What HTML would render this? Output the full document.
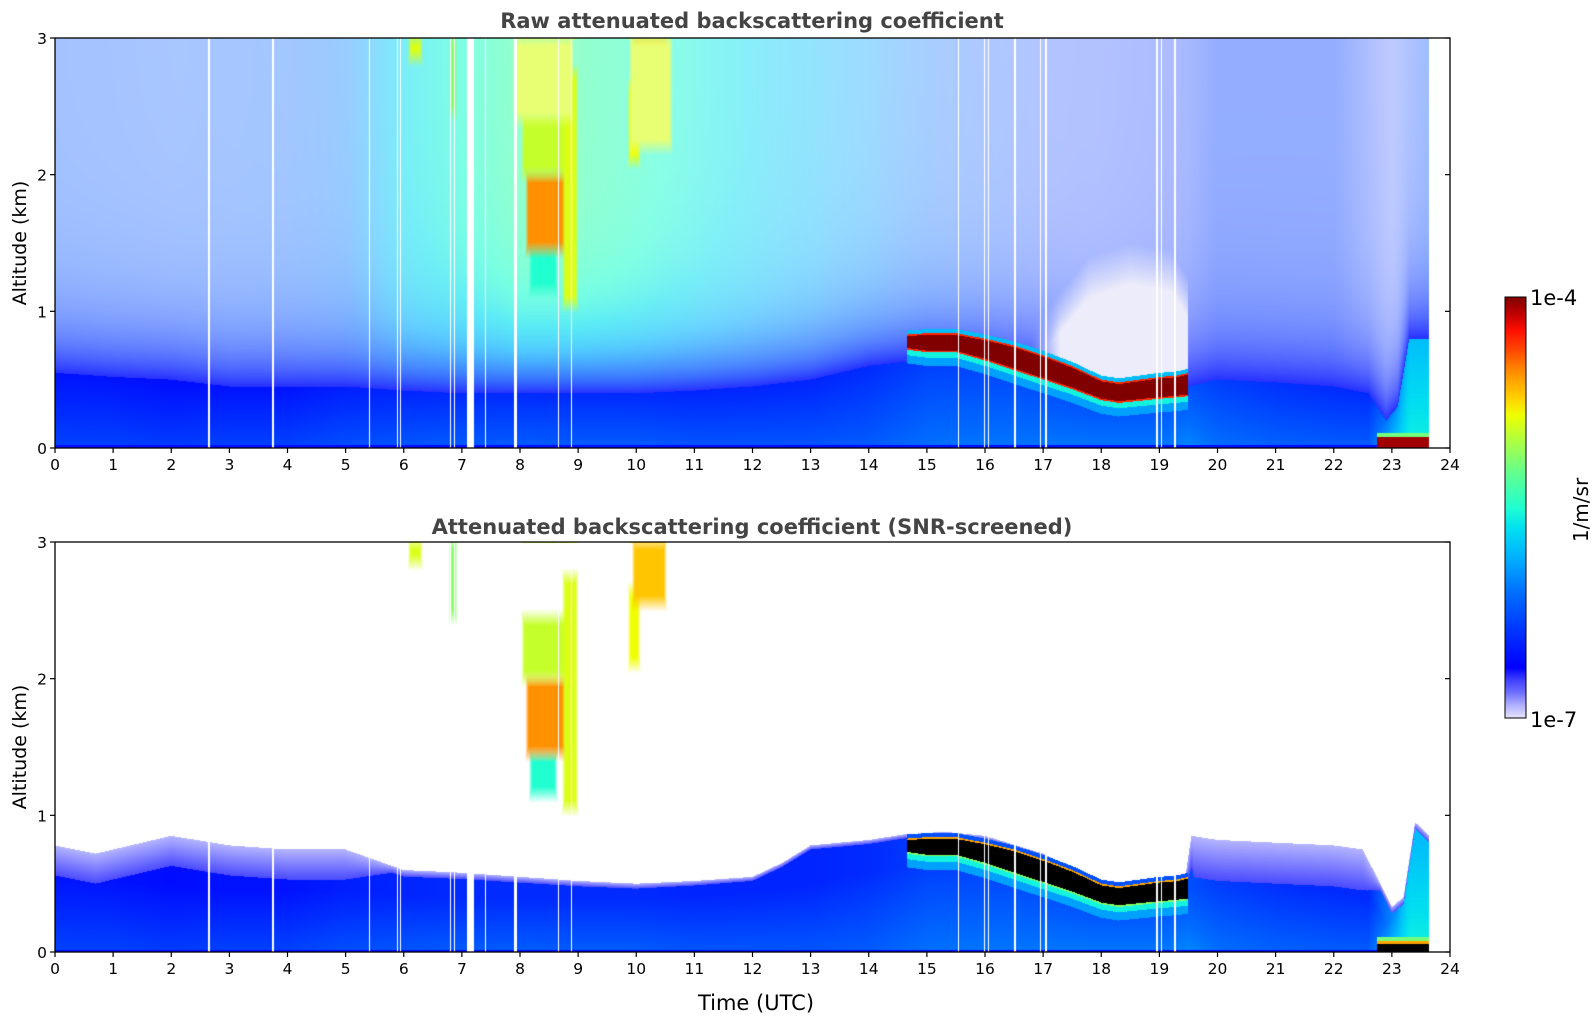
<!DOCTYPE html>
<html><head><meta charset="utf-8">
<style>
html,body{margin:0;padding:0;background:#fff;}
#root{position:relative;width:1595px;height:1020px;overflow:hidden;font-family:"DejaVu Sans","Liberation Sans",sans-serif;}
canvas{position:absolute;}
svg{position:absolute;left:0;top:0;}
</style></head>
<body>
<div id="root">
<canvas id="cTop" width="1395" height="410" style="left:55px;top:38px"></canvas>
<canvas id="cBot" width="1395" height="410" style="left:55px;top:542px"></canvas>
<svg id="ov" width="1595" height="1020">
<defs>
<linearGradient id="cmapGrad" x1="0" y1="1" x2="0" y2="0">
<stop offset="0" stop-color="#e4e4fa"/><stop offset="0.03" stop-color="#b0b0ff"/><stop offset="0.06" stop-color="#7070ff"/><stop offset="0.09" stop-color="#4040ff"/><stop offset="0.12" stop-color="#0000ff"/><stop offset="0.2" stop-color="#0030ff"/><stop offset="0.3" stop-color="#0070ff"/><stop offset="0.38" stop-color="#00b0ff"/><stop offset="0.45" stop-color="#00e0f0"/><stop offset="0.5" stop-color="#20ffd0"/><stop offset="0.58" stop-color="#60ff90"/><stop offset="0.66" stop-color="#b0ff40"/><stop offset="0.72" stop-color="#f0ff00"/><stop offset="0.76" stop-color="#ffd000"/><stop offset="0.82" stop-color="#ff9000"/><stop offset="0.88" stop-color="#ff4000"/><stop offset="0.92" stop-color="#ff1000"/><stop offset="0.96" stop-color="#c00000"/><stop offset="1" stop-color="#800000"/>
</linearGradient>
</defs>
<text x="752" y="28" text-anchor="middle" font-size="21" font-weight="bold" fill="#444">Raw attenuated backscattering coefficient</text>
<text x="752" y="534" text-anchor="middle" font-size="21" font-weight="bold" fill="#444">Attenuated backscattering coefficient (SNR-screened)</text>
<text transform="translate(26,243) rotate(-90)" text-anchor="middle" font-size="19" fill="#000">Altitude (km)</text>
<text transform="translate(26,747) rotate(-90)" text-anchor="middle" font-size="19" fill="#000">Altitude (km)</text>
<text x="756" y="1010" text-anchor="middle" font-size="21" fill="#000">Time (UTC)</text>
<rect x="1505" y="297" width="21" height="421" fill="url(#cmapGrad)" stroke="#000" stroke-width="1"/>
<text x="1530" y="305" font-size="21" fill="#000">1e-4</text>
<text x="1530" y="727" font-size="21" fill="#000">1e-7</text>
<text transform="translate(1588,510) rotate(-90)" text-anchor="middle" font-size="20" fill="#000">1/m/sr</text>
<g id="axes"></g>
</svg>
</div>
<script>
// ---- data (time in UTC hours, altitude in km) ----
const xTicks = [0,1,2,3,4,5,6,7,8,9,10,11,12,13,14,15,16,17,18,19,20,21,22,23,24];
const yTicks = [0,1,2,3];
const dataEnd = 23.64;
// dense boundary layer top (raw)
const blT = [0,1,2,3,4,5,6,7,8,9,10,11,12,13,14,15,16,17,18,19,19.5,20,21,22,22.6,22.9,23.1,23.3,23.64];
const blZ = [0.55,0.52,0.5,0.45,0.45,0.45,0.42,0.4,0.4,0.4,0.4,0.42,0.45,0.5,0.6,0.65,0.62,0.55,0.42,0.42,0.45,0.5,0.48,0.45,0.4,0.2,0.3,0.8,0.8];
const blU = [0.15,0.15,0.14,0.15,0.15,0.17,0.18,0.19,0.19,0.19,0.19,0.18,0.18,0.18,0.19,0.22,0.23,0.23,0.23,0.23,0.25,0.22,0.2,0.19,0.19,0.3,0.35,0.4,0.4];
// speckle above BL (raw)
const spT = [0,2,4,5,6,7,8,9,10,11,12,13,14,15,16,17,18,19,19.5,20,22,23,23.64];
const spDens = [0.36,0.34,0.36,0.4,0.52,0.58,0.58,0.58,0.55,0.5,0.46,0.42,0.38,0.34,0.32,0.3,0.3,0.32,0.34,0.42,0.42,0.25,0.38];
const spU = [0.26,0.26,0.28,0.32,0.45,0.5,0.55,0.55,0.52,0.48,0.44,0.4,0.36,0.3,0.26,0.22,0.2,0.2,0.2,0.22,0.22,0.2,0.25];
// attenuated clear zone above the low cloud (raw)
const attT = [16.8,17.3,17.8,18.5,19.2,19.5];
const attZ = [0.75,1.0,1.25,1.35,1.3,1.1];
// SNR screening top (bottom panel)
const snrT = [0,0.7,1.5,2,3,4,5,6,7,8,9,10,11,12,12.5,13,14,14.6,15.3,16,17,18,18.3,19,19.45,19.55,20,21,22,22.5,22.8,23.0,23.2,23.4,23.64];
const snrZ = [0.78,0.72,0.8,0.85,0.78,0.75,0.75,0.6,0.58,0.55,0.52,0.5,0.52,0.55,0.65,0.78,0.82,0.86,0.88,0.85,0.72,0.5,0.48,0.53,0.56,0.85,0.82,0.8,0.78,0.75,0.5,0.33,0.4,0.95,0.85];
// thickness of the pale top band in the screened panel
const lavT = [0,5,5.8,12,19.4,19.6,22.5,22.8,23.64];
const lavH = [0.22,0.22,0.05,0.03,0.03,0.3,0.3,0.05,0.05];
// low stratocumulus cloud layer
const cldT = [14.65,15,15.5,16,16.5,17,17.5,18,18.3,19,19.3,19.5];
const cldBase = [0.72,0.7,0.7,0.64,0.57,0.5,0.43,0.35,0.33,0.36,0.37,0.38];
const cldTop = [0.83,0.84,0.84,0.8,0.75,0.68,0.6,0.5,0.48,0.52,0.53,0.55];
// near-surface cloud at the end of day
const fogT0 = 22.75, fogT1 = 23.64, fogZ0 = 0.0, fogZ1 = 0.08;
// elevated cloud blobs
const hcT0 = [8.18,8.12,8.05,8.75,9.88,9.95,6.1,6.8,7.9,9.9];
const hcT1 = [8.62,8.78,8.85,8.98,10.05,10.5,6.3,6.9,8.9,10.6];
const hcZ0 = [1.15,1.45,2.0,1.05,2.1,2.55,2.85,2.45,2.4,2.2];
const hcZ1 = [1.45,2.0,2.45,2.75,2.65,3.0,3.0,3.0,3.0,3.0];
const hcU  = [0.5,0.82,0.68,0.7,0.72,0.77,0.7,0.62,0.7,0.7];
const hcRawOnly = [0,0,0,0,0,0,0,0,1,1];
// missing profiles (white stripes)
const gapT0 = [2.64,3.74,5.4,5.88,5.94,6.8,6.86,7.08,7.4,7.9,8.65,8.88,15.54,15.98,16.05,16.5,16.94,17.04,18.94,19.02,19.26];
const gapT1 = [2.66,3.76,5.42,5.9,5.96,6.82,6.88,7.2,7.42,7.94,8.67,8.9,15.56,16.0,16.07,16.53,16.96,17.06,18.97,19.05,19.28];

// ---- axis functions ----
const PX0=55, PW=1395, TOP1=38, TOP2=542, PH=410;
const xs = t => PX0 + t*PW/24;
const ys = (z,top) => top + PH - z*PH/3;

const cmapStops = [[0,[228,228,250]],[0.03,[176,176,255]],[0.06,[112,112,255]],[0.09,[64,64,255]],[0.12,[0,0,255]],[0.2,[0,48,255]],[0.3,[0,112,255]],[0.38,[0,176,255]],[0.45,[0,224,240]],[0.5,[32,255,208]],[0.58,[96,255,144]],[0.66,[176,255,64]],[0.72,[240,255,0]],[0.76,[255,208,0]],[0.82,[255,144,0]],[0.88,[255,64,0]],[0.92,[255,16,0]],[0.96,[192,0,0]],[1,[128,0,0]]];
function cmap(u){u=Math.max(0,Math.min(1,u));for(let i=1;i<cmapStops.length;i++){if(u<=cmapStops[i][0]){const a=cmapStops[i-1],b=cmapStops[i];const f=(u-a[0])/(b[0]-a[0]);return [a[1][0]+(b[1][0]-a[1][0])*f,a[1][1]+(b[1][1]-a[1][1])*f,a[1][2]+(b[1][2]-a[1][2])*f];}}return cmapStops[cmapStops.length-1][1];}
function interp(T,V,t){if(t<=T[0])return V[0];for(let i=1;i<T.length;i++){if(t<=T[i]){const f=(t-T[i-1])/(T[i]-T[i-1]);return V[i-1]+(V[i]-V[i-1])*f;}}return V[V.length-1];}
function mixW(c,f){return [255+(c[0]-255)*f,255+(c[1]-255)*f,255+(c[2]-255)*f];}
function mix(a,b,f){return [a[0]+(b[0]-a[0])*f,a[1]+(b[1]-a[1])*f,a[2]+(b[2]-a[2])*f];}
function inGap(t){for(let i=0;i<gapT0.length;i++){if(t>=gapT0[i]&&t<=gapT1[i])return true;}return false;}

function background(t,z,raw){
  const W=[255,255,255];
  if(t>=fogT0&&z>=fogZ0&&z<=fogZ1) return raw?cmap(0.98):(z<0.06?[0,0,0]:cmap(0.8));
  if(t>=fogT0&&z>fogZ1&&z<fogZ1+0.03) return cmap(0.6);
  if(t>=cldT[0]&&t<=cldT[cldT.length-1]){
    const cb=interp(cldT,cldBase,t), ct=interp(cldT,cldTop,t);
    if(z>=cb&&z<=ct){
      const e=Math.min(z-cb,ct-z);
      if(raw) return e<0.012?cmap(0.9):cmap(1);
      return e<0.012?(z>cb+0.05?cmap(0.8):cmap(0.62)):[0,0,0];
    }
    if(z<cb&&z>cb-0.04) return cmap(0.48);
    if(z<cb&&z>cb-0.1) return cmap(0.36);
    if(z>ct&&z<ct+0.03) return raw?cmap(0.4):cmap(0.25);
  }
  const bl=interp(blT,blZ,t), bu=interp(blT,blU,t);
  if(raw){
    if(z<0.02) return cmap(0.14);
    if(z<bl){const f=z/bl;return cmap(bu+0.08*(1-f));}
    const h=z-bl;
    const d0=interp(spT,spDens,t), u0=interp(spT,spU,t);
    const k=Math.exp(-h/0.35);
    const dens=d0+(0.85-d0)*k;
    const u=u0*(1-k)+0.14*k;
    let c=mixW(cmap(u),dens);
    if(t>16.8&&t<19.5){
      const az=interp(attT,attZ,t);
      const ft=Math.min(1,(t-16.8)/0.5);
      const fz=Math.max(0,Math.min(1,(az+0.15-z)/0.3));
      c=mix(c,[236,236,250],ft*fz);
    }
    return c;
  } else {
    const st=interp(snrT,snrZ,t);
    if(z>st) return W;
    if(z<0.015) return cmap(0.14);
    const lh=interp(lavT,lavH,t);
    if(z>st-lh){const f=(z-(st-lh))/lh;return mixW(cmap(0.1),0.85-0.5*f);}
    const f=Math.min(1,z/Math.max(bl,0.05));
    return cmap(bu+0.08*(1-f));
  }
}
function pixel(t,z,raw){
  if(t>dataEnd||inGap(t)) return [255,255,255];
  let c=background(t,z,raw);
  for(let i=0;i<hcT0.length;i++){
    if(!raw&&hcRawOnly[i])continue;
    const dt=Math.min(t-hcT0[i],hcT1[i]-t)/0.06, dz=Math.min(z-hcZ0[i],hcZ1[i]-z)/0.12;
    let m=Math.min(dt,dz)+0.5;
    if(z>=2.99&&dt>-0.5) m=Math.min(dt+0.5,1);
    if(m<=0)continue; m=Math.min(1,m);
    let cc=cmap(hcU[i]);
    if(hcRawOnly[i]) cc=mixW(cc,0.6);
    c=mix(c,cc,m);
  }
  return c;
}
function render(id,raw){
  const cv=document.getElementById(id),ctx=cv.getContext('2d');
  const im=ctx.createImageData(PW,PH);
  for(let x=0;x<PW;x++){
    const t=(x+0.5)*24/PW;
    for(let y=0;y<PH;y++){
      const z=(PH-y-0.5)*3/PH;
      const c=pixel(t,z,raw);
      const o=(y*PW+x)*4;
      im.data[o]=c[0];im.data[o+1]=c[1];im.data[o+2]=c[2];im.data[o+3]=255;
    }
  }
  ctx.putImageData(im,0,0);
}
render('cTop',true);
render('cBot',false);

// ---- axes ----
const NS='http://www.w3.org/2000/svg';
const g=document.getElementById('axes');
function mk(tag,attrs){const e=document.createElementNS(NS,tag);for(const k in attrs)e.setAttribute(k,attrs[k]);g.appendChild(e);return e;}
[TOP1,TOP2].forEach((top,pi)=>{
  const fr=mk('rect',{x:PX0,y:top,width:PW,height:PH,fill:'none',stroke:'#000','stroke-width':1.3});
  
  
  xTicks.forEach(v=>{
    const x=xs(v);
    const tk=mk('line',{x1:x,x2:x,y1:top+PH,y2:top+PH+5,stroke:'#000','stroke-width':1.2});
    
    
    const tx=mk('text',{x:x,y:top+PH+22,'text-anchor':'middle','font-size':15.5,fill:'#000'});
    tx.textContent=v;
    
    
  });
  yTicks.forEach(v=>{
    const y=ys(v,top);
    const tl=mk('line',{x1:PX0-5,x2:PX0,y1:y,y2:y,stroke:'#000','stroke-width':1.2});
    
    
    const tr=mk('line',{x1:PX0+PW-5,x2:PX0+PW,y1:y,y2:y,stroke:'#000','stroke-width':1.2});
    
    
    const ty=mk('text',{x:PX0-8,y:y+6,'text-anchor':'end','font-size':15.5,fill:'#000'});
    ty.textContent=v;
    
    
  });
});
</script>
</body></html>
